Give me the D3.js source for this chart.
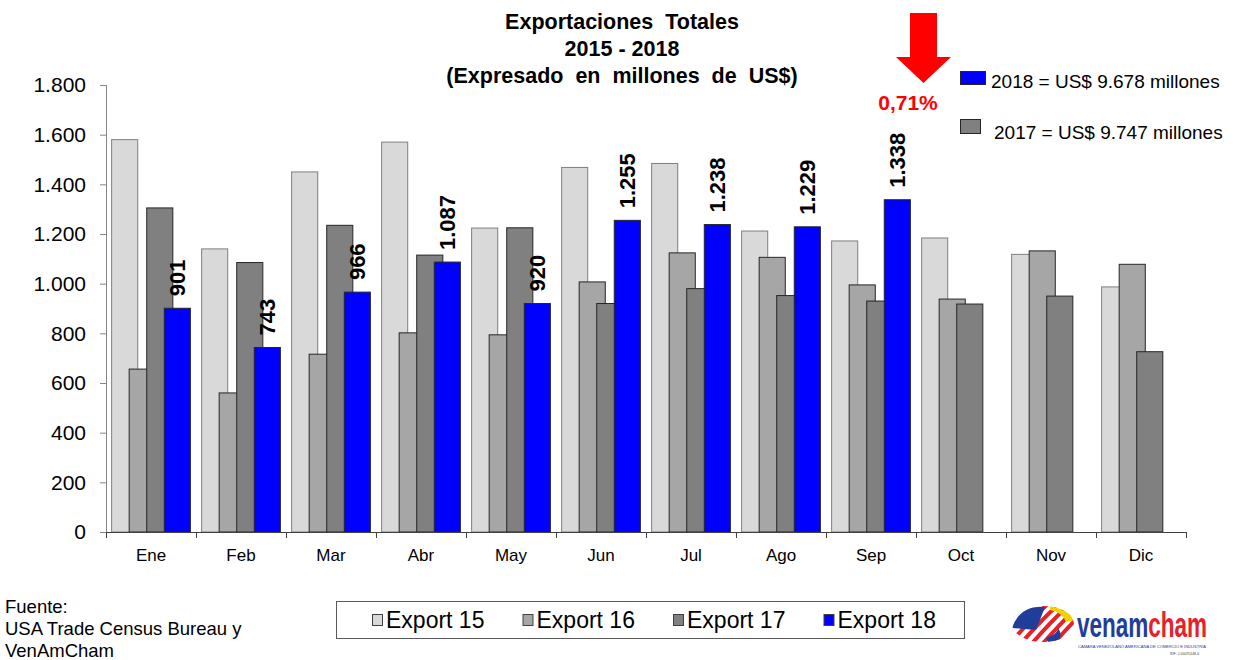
<!DOCTYPE html>
<html>
<head>
<meta charset="utf-8">
<title>Exportaciones Totales 2015 - 2018</title>
<script src="https://d3js.org/d3.v7.min.js"></script>
<style>
  body { margin: 0; background: #fff; }
  svg text { font-family: "Liberation Sans", Arial, sans-serif; fill: #000; }
  .axis .domain { stroke: #868686; }
  .axis .tick line { stroke: #868686; }
</style>
</head>
<body>
<svg width="1233" height="660"></svg>
<script>
// data
var months = ["Ene", "Feb", "Mar", "Abr", "May", "Jun", "Jul", "Ago", "Sep", "Oct", "Nov", "Dic"];
var export15 = [1580, 1140, 1450, 1570, 1224, 1468, 1484, 1212, 1172, 1184, 1118, 987];
var export16 = [656, 560, 716, 802, 794, 1007, 1124, 1106, 995, 938, 1132, 1078];
var export17 = [1305, 1085, 1235, 1115, 1225, 920, 980, 952, 930, 918, 950, 726];
var export18 = [901, 743, 966, 1087, 920, 1255, 1238, 1229, 1338];
var seriesNames = ["Export 15", "Export 16", "Export 17", "Export 18"];
var seriesColors = ["#d9d9d9", "#a6a6a6", "#808080", "#0000ff"];
var yTicks = [0, 200, 400, 600, 800, 1000, 1200, 1400, 1600, 1800];
var titleLines = ["Exportaciones  Totales", "2015 - 2018", "(Expresado  en  millones  de  US$)"];
var totalsText = ["2018 = US$ 9.678 millones", "2017 = US$ 9.747 millones"];
var changeText = "0,71%";
var sourceLines = ["Fuente:", "USA Trade Census Bureau y", "VenAmCham"];

var svg = d3.select("svg");

var locale = d3.formatLocale({decimal: ",", thousands: ".", grouping: [3], currency: ["", ""]});
var fmt = locale.format(",");

var x = d3.scaleBand().domain(months).range([106, 1186]);
var y = d3.scaleLinear().domain([0, 1800]).range([532, 85]);

var bw = x.bandwidth();
var barW = bw * 0.29;
var step = bw * 0.195;
var off = (bw - (3 * step + barW)) / 2;

var series = [export15, export16, export17, export18];

// y axis
svg.append("g")
    .attr("class", "axis")
    .attr("transform", "translate(106,0)")
    .call(d3.axisLeft(y).tickValues(yTicks).tickSize(6).tickSizeOuter(0).tickPadding(14).tickFormat(fmt))
    .call(function(g) {
      g.select(".domain").attr("d", "M0.5," + y(1800) + "V" + (y(0) + 6));
      g.selectAll("text").style("font-size", "21px").attr("fill", "#000");
    });

// bars
series.forEach(function(vals, i) {
  svg.append("g").selectAll("rect")
    .data(vals)
    .enter()
    .append("rect")
    .attr("x", function(d, j) { return x(months[j]) + off + i * step; })
    .attr("y", function(d) { return y(d); })
    .attr("width", barW)
    .attr("height", function(d) { return y(0) - y(d); })
    .attr("fill", seriesColors[i])
    .attr("stroke", i == 0 ? "#7f7f7f" : "#262626")
    .attr("stroke-width", 1);
});

// value labels on 2018 bars
svg.append("g").selectAll("text")
  .data(export18)
  .enter()
  .append("text")
  .attr("transform", function(d, j) {
    var cx = x(months[j]) + off + 3 * step + barW / 2 + 8;
    return "translate(" + cx + "," + (y(d) - 12) + ") rotate(-90)";
  })
  .style("font-size", "22px")
  .style("font-weight", "bold")
  .text(function(d) { return fmt(d); });

// x axis
svg.append("line")
  .attr("x1", 106).attr("x2", 1186)
  .attr("y1", y(0) + 0.5).attr("y2", y(0) + 0.5)
  .attr("stroke", "#404040");
svg.append("g").selectAll("line")
  .data(months.concat(["end"]))
  .enter()
  .append("line")
  .attr("x1", function(d, j) { return 106 + j * bw + 0.5; })
  .attr("x2", function(d, j) { return 106 + j * bw + 0.5; })
  .attr("y1", y(0))
  .attr("y2", y(0) + 6)
  .attr("stroke", "#404040");
svg.append("g").selectAll("text")
  .data(months)
  .enter()
  .append("text")
  .attr("x", function(d) { return x(d) + bw / 2; })
  .attr("y", 561)
  .attr("text-anchor", "middle")
  .style("font-size", "17px")
  .text(function(d) { return d; });

// title
svg.append("g").selectAll("text")
  .data(titleLines)
  .enter()
  .append("text")
  .attr("x", 622)
  .attr("y", function(d, i) { return 29 + i * 27; })
  .attr("text-anchor", "middle")
  .style("font-size", "21.5px")
  .style("font-weight", "bold")
  .style("white-space", "pre")
  .text(function(d) { return d; });

// red arrow and change
svg.append("path")
  .attr("d", "M910,13H937V57H951L923.5,83L896,57H910Z")
  .attr("fill", "#ff0000");
svg.append("text")
  .attr("x", 908).attr("y", 110)
  .attr("text-anchor", "middle")
  .style("fill", "#ff0000")
  .style("font-size", "21px")
  .style("font-weight", "bold")
  .text(changeText);

// totals legend
var tl = svg.append("g");
tl.append("rect").attr("x", 960.5).attr("y", 71.5).attr("width", 25).attr("height", 13)
  .attr("fill", "#0000ff").attr("stroke", "#262626");
tl.append("text").attr("x", 991).attr("y", 88).style("font-size", "19px").text(totalsText[0]);
tl.append("rect").attr("x", 960.5).attr("y", 119.5).attr("width", 20).attr("height", 14)
  .attr("fill", "#808080").attr("stroke", "#262626");
tl.append("text").attr("x", 994).attr("y", 139).style("font-size", "19px").text(totalsText[1]);

// bottom legend
var lg = svg.append("g");
lg.append("rect").attr("x", 336.5).attr("y", 601.5).attr("width", 628).attr("height", 37)
  .attr("fill", "#fff").attr("stroke", "#595959");
var items = lg.selectAll("g.item")
  .data(seriesNames)
  .enter()
  .append("g")
  .attr("class", "item")
  .attr("transform", function(d, i) { return "translate(" + (372 + i * 150.5) + ",0)"; });
items.append("rect")
  .attr("x", 0.5).attr("y", 614.5).attr("width", 10).attr("height", 11)
  .attr("fill", function(d, i) { return seriesColors[i]; })
  .attr("stroke", "#404040");
items.append("text")
  .attr("x", 14).attr("y", 628)
  .style("font-size", "23px")
  .text(function(d) { return d; });

// source
svg.append("g").selectAll("text")
  .data(sourceLines)
  .enter()
  .append("text")
  .attr("x", 5)
  .attr("y", function(d, i) { return 613 + i * 22; })
  .style("font-size", "18.5px")
  .text(function(d) { return d; });

// logo
var logo = svg.append("g");
var clip = svg.append("defs").append("clipPath").attr("id", "emb");
clip.append("ellipse").attr("cx", 1043).attr("cy", 624).attr("rx", 31).attr("ry", 18);
var emb = logo.append("g").attr("clip-path", "url(#emb)");
emb.append("rect").attr("x", 1010).attr("y", 604).attr("width", 66).attr("height", 42).attr("fill", "#fff");
d3.range(7).forEach(function(k) {
  emb.append("path")
    .attr("d", "M" + (1006 + k * 11) + ",648 Q" + (1030 + k * 11) + ",620 " + (1050 + k * 11) + ",602")
    .attr("stroke", "#e8202a").attr("stroke-width", 4).attr("fill", "none");
});
emb.append("path").attr("d", "M1012,628 Q1020,605 1045,607 L1036,630 Z").attr("fill", "#1f3d99");
emb.append("path").attr("d", "M1050,604 Q1070,606 1075,620 L1066,622 Q1062,612 1050,610 Z").attr("fill", "#f5d000");
emb.append("path").attr("d", "M1058,628 Q1066,640 1050,645 L1046,638 Q1058,634 1058,628 Z").attr("fill", "#1f3d99");
var brand = logo.append("g")
  .attr("transform", "translate(1077,637) scale(1,1.6)")
  .append("text")
  .attr("x", 0).attr("y", 0)
  .style("font-size", "22.5px").style("font-weight", "bold");
brand.append("tspan").style("fill", "#1f3d99").text("venam");
brand.append("tspan").style("fill", "#e8202a").text("cham");
logo.append("text")
  .attr("x", 1078).attr("y", 648)
  .attr("textLength", 128).attr("lengthAdjust", "spacingAndGlyphs")
  .style("font-size", "3.5px").style("fill", "#1f3d99")
  .text("CAMARA VENEZOLANO AMERICANA DE COMERCIO E INDUSTRIA");
logo.append("text")
  .attr("x", 1170).attr("y", 655)
  .style("font-size", "3.5px").style("fill", "#444")
  .text("RIF: J-00070148-6");
</script>
</body>
</html>
